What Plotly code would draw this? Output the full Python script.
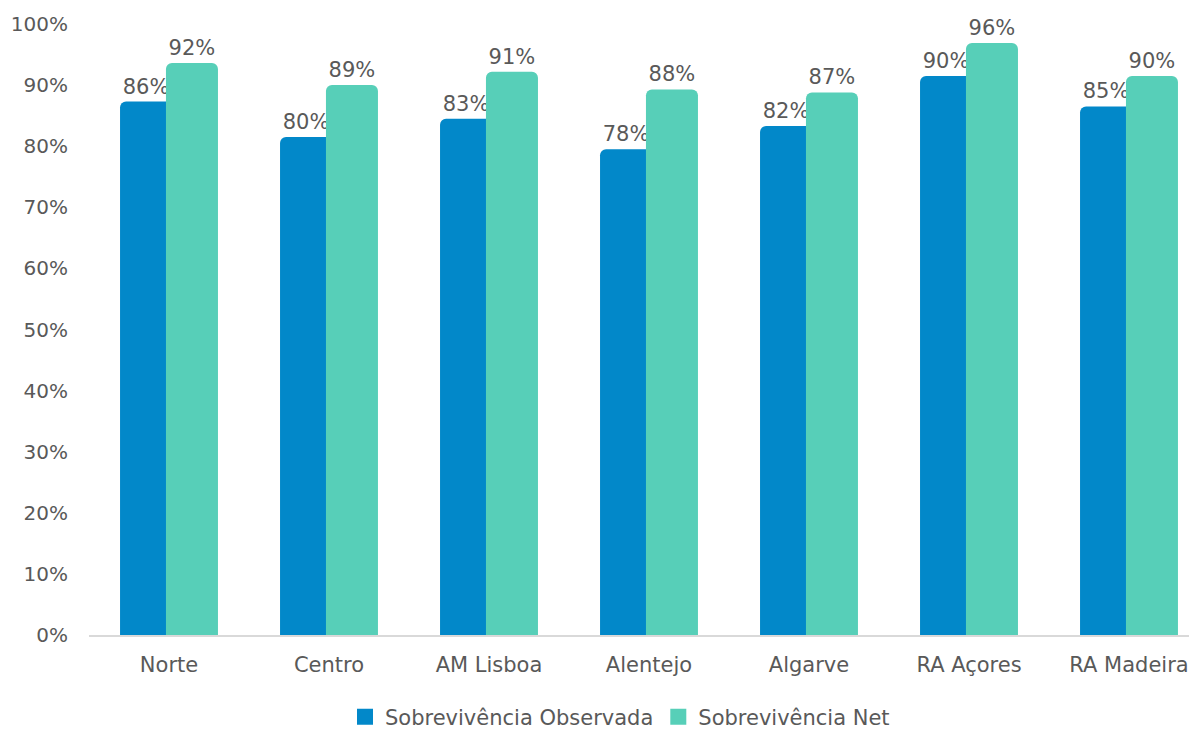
import plotly.graph_objects as go

categories = ["Norte", "Centro", "AM Lisboa", "Alentejo", "Algarve", "RA Açores", "RA Madeira"]
observada = [87.3, 81.5, 84.5, 79.5, 83.3, 91.5, 86.5]
net = [93.6, 90.0, 92.2, 89.3, 88.8, 96.9, 91.5]
observada_labels = ["86%", "80%", "83%", "78%", "82%", "90%", "85%"]
net_labels = ["92%", "89%", "91%", "88%", "87%", "96%", "90%"]
tick_vals = [0, 10, 20, 30, 40, 50, 60, 70, 80, 90, 100]
tick_text = ["0%", "10%", "20%", "30%", "40%", "50%", "60%", "70%", "80%", "90%", "100%"]

FONT = "'DejaVu Sans', sans-serif"
TXT = "#595959"
C_OBS = "#0288C9"
C_NET = "#57CFB8"

# page has an 8px body margin, so the figure is sized to fit the 1197x729 window
W, H = 1189, 721
ML, MT, MB, MR = 81, 16, 94, 0
PLOT_W = W - ML - MR
PLOT_H = H - MT - MB

fig = go.Figure()
fig.add_trace(go.Bar(
    x=categories, y=observada, name="Sobrevivência Observada", showlegend=False,
    marker=dict(color=C_OBS, cornerradius=6, line=dict(width=0)),
    width=0.325, offset=-0.306,
    text=observada_labels, textposition="outside", constraintext="none",
    textfont=dict(size=21, color=TXT, family=FONT), cliponaxis=False,
))
fig.add_trace(go.Bar(
    x=categories, y=net, name="Sobrevivência Net", showlegend=False,
    marker=dict(color=C_NET, cornerradius=6, line=dict(width=0)),
    width=0.325, offset=-0.019,
    text=net_labels, textposition="outside", constraintext="none",
    textfont=dict(size=21, color=TXT, family=FONT), cliponaxis=False,
))
for name, col in [("Sobrevivência Observada", C_OBS), ("Sobrevivência Net", C_NET)]:
    fig.add_trace(go.Scatter(
        x=[None], y=[None], mode="markers", name=name,
        marker=dict(symbol="square", size=16, color=col),
    ))

fig.update_layout(
    width=W, height=H,
    barmode="overlay",
    paper_bgcolor="white", plot_bgcolor="white",
    margin=dict(l=ML, r=MR, t=MT, b=MB, autoexpand=False),
    font=dict(family=FONT, size=20, color=TXT),
    showlegend=True,
    legend=dict(orientation="h", x=(620 - 89) / PLOT_W, xanchor="center",
                y=-82 / PLOT_H, yanchor="middle",
                font=dict(size=21, color=TXT, family=FONT), itemsizing="trace",
                traceorder="normal", itemwidth=30),
    xaxis=dict(range=[-0.5, -0.5 + PLOT_W / 160], showgrid=False, showline=True,
               linecolor="#D9D9D9", linewidth=2, ticks="",
               tickfont=dict(size=21, color=TXT), ticklabelstandoff=10,
               automargin=False, fixedrange=True),
    yaxis=dict(range=[0, 100], tickvals=tick_vals, ticktext=tick_text, showgrid=False,
               zeroline=False, showline=False, tickfont=dict(size=20, color=TXT),
               ticklabelstandoff=20, automargin=False),
)

fig.write_html("out.html")
